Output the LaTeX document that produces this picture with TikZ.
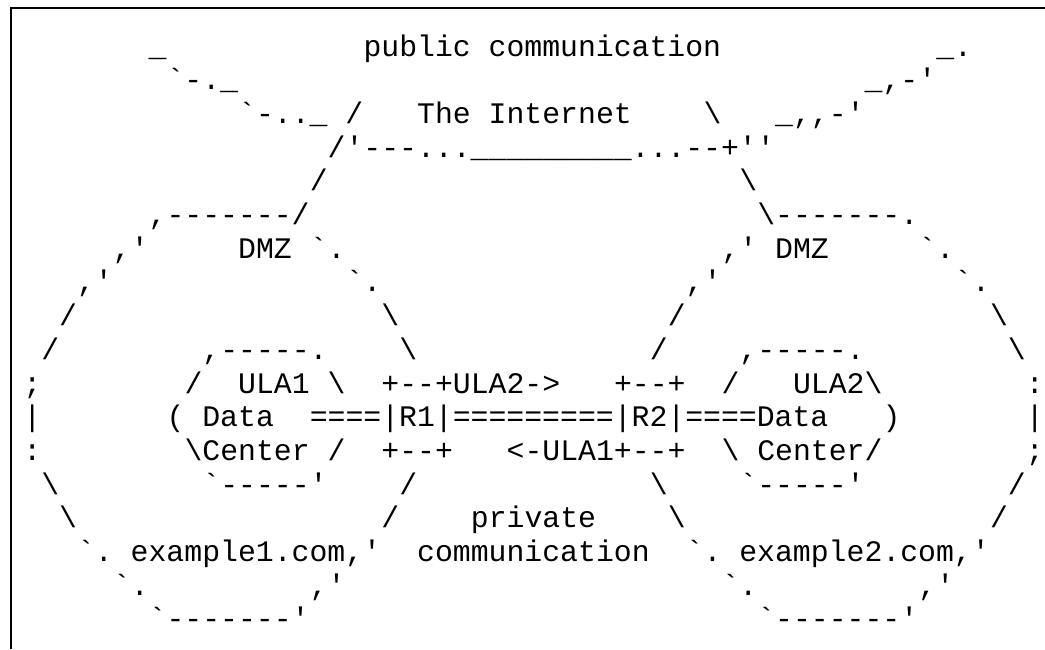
\documentclass[tikz,border=0pt]{standalone}
\usepackage{fontspec}
\setmonofont{Liberation Mono}

\tikzset{
  ascii/.style={font=\ttfamily\fontsize{14.9pt}{16pt}\selectfont, inner sep=0pt, anchor=base west}
}

\begin{document}
\begin{tikzpicture}[x=8.95pt, y=-16.85pt]
  \useasboundingbox (-11.5pt,28pt) rectangle (511pt,-296.5pt);

  % frame
  \coordinate (frame-bl) at (-6.15pt,-296.5pt);
  \coordinate (frame-tr) at (511pt,24.25pt);
  \draw[line width=1pt] (frame-bl) |- (frame-tr);

  % the internet
  \foreach \col/\row/\txt in {7/0/{\_}, 19/0/{public communication}, 51/0/{\_.},
      8/1/{`-.\_}, 47/1/{\_,-'},
      12/2/{`-..\_ /}, 22/2/{The Internet}, 38/2/{\textbackslash}, 42/2/{\_,,-'},
      17/3/{/'---...\_\_\_\_\_\_\_\_\_...--+''},
      16/4/{/}, 40/4/{\textbackslash}}
    \node[ascii] (t-\col-\row) at (\col,\row) {\txt};

  % left site
  \foreach \col/\row/\txt in {7/5/{,-------/}, 5/6/{,'}, 12/6/{DMZ `.}, 3/7/{,'}, 18/7/{`.},
      2/8/{/}, 20/8/{\textbackslash}, 1/9/{/}, 10/9/{,-----.}, 21/9/{\textbackslash},
      0/10/{;}, 9/10/{/}, 12/10/{ULA1 \textbackslash}, 0/11/{|}, 8/11/{( Data},
      0/12/{:}, 9/12/{\textbackslash Center /}, 1/13/{\textbackslash}, 10/13/{`-----'}, 21/13/{/},
      2/14/{\textbackslash}, 20/14/{/}, 3/15/{`. example1.com,'}, 5/16/{`.}, 16/16/{,'},
      7/17/{`-------'}}
    \node[ascii] (t-\col-\row) at (\col,\row) {\txt};

  % right site
  \foreach \col/\row/\txt in {41/5/{\textbackslash-------.}, 39/6/{,' DMZ}, 50/6/{`.}, 37/7/{,'}, 52/7/{`.},
      36/8/{/}, 54/8/{\textbackslash}, 35/9/{/}, 40/9/{,-----.}, 55/9/{\textbackslash},
      39/10/{/}, 43/10/{ULA2\textbackslash}, 56/10/{:}, 48/11/{)}, 56/11/{|},
      39/12/{\textbackslash\ Center/}, 56/12/{;}, 35/13/{\textbackslash}, 40/13/{`-----'}, 55/13/{/},
      36/14/{\textbackslash}, 54/14/{/}, 37/15/{`. example2.com,'}, 39/16/{`.}, 50/16/{,'},
      41/17/{`-------'}}
    \node[ascii] (t-\col-\row) at (\col,\row) {\txt};

  % routers and the private link
  \foreach \col/\row/\txt in {20/10/{+--+ULA2->}, 33/10/{+--+}, 16/11/{====|R1|=========|R2|====Data},
      20/12/{+--+}, 27/12/{<-ULA1+--+}, 25/14/{private}, 22/15/{communication}}
    \node[ascii] (t-\col-\row) at (\col,\row) {\txt};
\end{tikzpicture}
\end{document}
